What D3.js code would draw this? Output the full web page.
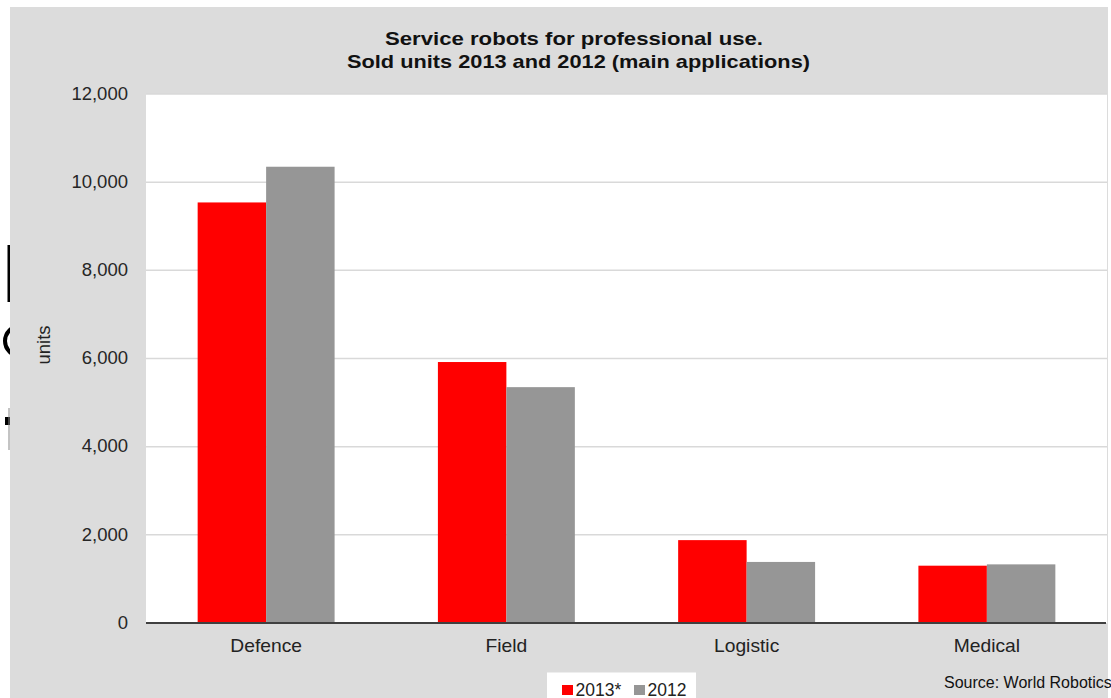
<!DOCTYPE html>
<html>
<head>
<meta charset="utf-8">
<script src="https://cdn.jsdelivr.net/npm/d3@7"></script>
<style>
  html, body { margin: 0; padding: 0; background: #ffffff; }
  svg { display: block; font-family: "Liberation Sans", Arial, sans-serif; }
</style>
</head>
<body>
<svg id="chart" width="1111" height="698"></svg>
<script>
// Sold units of professional service robots, by main application
const categories = ["Defence", "Field", "Logistic", "Medical"];
const seriesNames = ["2013*", "2012"];
const units2013 = [9540, 5920, 1880, 1300];
const units2012 = [10350, 5350, 1385, 1330];
const yTicks = [0, 2000, 4000, 6000, 8000, 10000, 12000];
const seriesColors = ["#ff0000", "#969696"];

const svg = d3.select("#chart");
const W = 1111, H = 698;
const FONT = "'Liberation Sans', Arial, sans-serif";

// widen a text element horizontally by factor k
function stretch(sel, k) {
  sel.each(function () {
    const len = this.getComputedTextLength();
    d3.select(this).attr("textLength", len * k).attr("lengthAdjust", "spacingAndGlyphs");
  });
}

// page frame: grey panel inside a white margin
svg.append("rect").attr("width", W).attr("height", H).attr("fill", "#ffffff");
svg.append("rect").attr("x", 10).attr("y", 7).attr("width", 1098).attr("height", H - 7).attr("fill", "#dcdcdc");

// fragments of neighbouring slide text along the left edge
const edge = svg.append("g");
edge.append("defs").append("clipPath").attr("id", "edgeClip")
  .append("rect").attr("x", 0).attr("y", 0).attr("width", 10).attr("height", H);
const eg = edge.append("g").attr("clip-path", "url(#edgeClip)");
eg.append("rect").attr("x", 7.5).attr("y", 245).attr("width", 2.5).attr("height", 57).attr("fill", "#000");
eg.append("circle").attr("cx", 20).attr("cy", 341).attr("r", 15).attr("fill", "none").attr("stroke", "#000").attr("stroke-width", 4);
eg.append("rect").attr("x", 5).attr("y", 417).attr("width", 5).attr("height", 8).attr("fill", "#000");
eg.append("line").attr("x1", 9).attr("x2", 9).attr("y1", 408).attr("y2", 450).attr("stroke", "#888").attr("stroke-width", 1);

const plot = { left: 146, right: 1107, top: 94, bottom: 623 };

const x0 = d3.scaleBand().domain(categories).range([plot.left, plot.right]).paddingInner(0.43).paddingOuter(0.215);
const x1 = d3.scaleBand().domain(seriesNames).range([0, x0.bandwidth()]);
const y = d3.scaleLinear().domain([0, 12000]).range([plot.bottom, plot.top]);

// plot background
svg.append("rect").attr("x", plot.left).attr("y", plot.top)
  .attr("width", plot.right - plot.left).attr("height", plot.bottom - plot.top)
  .attr("fill", "#ffffff");

// horizontal gridlines
svg.append("g").selectAll("line").data(yTicks.filter(d => d > 0)).join("line")
  .attr("x1", plot.left).attr("x2", plot.right)
  .attr("y1", d => y(d)).attr("y2", d => y(d))
  .attr("stroke", "#d9d9d9").attr("stroke-width", 1.5);

// y axis labels
const yAxis = d3.axisLeft(y).tickValues(yTicks).tickFormat(d3.format(",")).tickSize(0).tickPadding(18);
const yg = svg.append("g").attr("transform", `translate(${plot.left},0)`).call(yAxis);
yg.select(".domain").remove();
yg.selectAll("text").attr("font-size", 18.5).attr("fill", "#262626").attr("font-family", FONT)
  .attr("dy", "0.28em");

// y axis title
svg.append("text").attr("transform", "translate(50,345) rotate(-90)")
  .attr("text-anchor", "middle").attr("font-size", 18.5).attr("fill", "#222").text("units");

// bars
const rows = categories.map((c, i) => ({ cat: c, vals: [units2013[i], units2012[i]] }));
const groups = svg.append("g").selectAll("g").data(rows).join("g")
  .attr("transform", d => `translate(${x0(d.cat)},0)`);
groups.selectAll("rect").data(d => d.vals.map((v, j) => ({ s: seriesNames[j], v, j }))).join("rect")
  .attr("x", d => x1(d.s))
  .attr("width", x1.bandwidth())
  .attr("y", d => y(d.v))
  .attr("height", d => y(0) - y(d.v))
  .attr("fill", d => seriesColors[d.j]);

// zero baseline
svg.append("line").attr("x1", plot.left).attr("x2", plot.right - 1)
  .attr("y1", y(0)).attr("y2", y(0)).attr("stroke", "#404040").attr("stroke-width", 2);

// category labels
const xAxis = d3.axisBottom(x0).tickSize(0).tickPadding(16);
const xg = svg.append("g").attr("transform", `translate(0,${plot.bottom})`).call(xAxis);
xg.select(".domain").remove();
xg.selectAll("text").attr("font-size", 18.5).attr("fill", "#222").attr("font-family", FONT);
stretch(xg.selectAll("text"), 1.04);

// title
const title = svg.append("text").attr("text-anchor", "middle").attr("font-weight", "bold")
  .attr("font-size", 19).attr("fill", "#111");
const t1 = title.append("tspan").attr("x", 574).attr("y", 45).text("Service robots for professional use.");
const t2 = title.append("tspan").attr("x", 578.5).attr("y", 67.5).text("Sold units 2013 and 2012 (main applications)");
t1.attr("textLength", 378).attr("lengthAdjust", "spacingAndGlyphs");
t2.attr("textLength", 463).attr("lengthAdjust", "spacingAndGlyphs");

// legend
const lg = svg.append("g").attr("transform", "translate(547,672.5)");
lg.append("rect").attr("width", 149).attr("height", 30).attr("fill", "#ffffff");
const items = lg.selectAll("g").data(seriesNames).join("g")
  .attr("transform", (d, i) => `translate(${15 + i * 72},0)`);
items.append("rect").attr("y", 12.5).attr("width", 11).attr("height", 10).attr("fill", (d, i) => seriesColors[i]);
items.append("text").attr("x", 13.5).attr("y", 23).attr("font-size", 17.5).attr("fill", "#222").text(d => d);

// source note
svg.append("text").attr("x", 944).attr("y", 688).attr("font-size", 16).attr("fill", "#111")
  .text("Source: World Robotics");
</script>
</body>
</html>
